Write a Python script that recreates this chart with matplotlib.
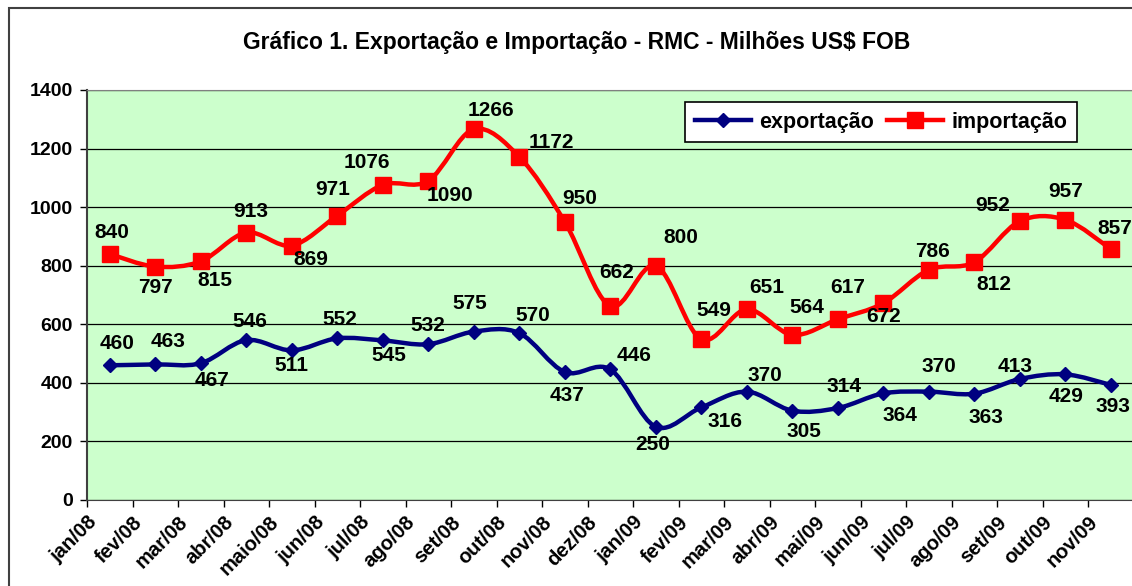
import numpy as np
import matplotlib.pyplot as plt
from matplotlib.path import Path
from matplotlib.patches import PathPatch, Rectangle
from matplotlib.lines import Line2D

plt.rcParams['font.family'] = ['Liberation Sans', 'DejaVu Sans']
plt.rcParams['font.weight'] = 'bold'

# Dados

meses = ['jan/08', 'fev/08', 'mar/08', 'abr/08', 'maio/08', 'jun/08', 'jul/08',
         'ago/08', 'set/08', 'out/08', 'nov/08', 'dez/08', 'jan/09', 'fev/09',
         'mar/09', 'abr/09', 'mai/09', 'jun/09', 'jul/09', 'ago/09', 'set/09',
         'out/09', 'nov/09']

exportacao = [460, 463, 467, 546, 511, 552, 545, 532, 575, 570, 437, 446,
              250, 316, 370, 305, 314, 364, 370, 363, 413, 429, 393]

importacao = [840, 797, 815, 913, 869, 971, 1076, 1090, 1266, 1172, 950, 662,
              800, 549, 651, 564, 617, 672, 786, 812, 952, 957, 857]

# posicao dos rotulos (pixels em relacao ao ponto)
off_exp = [(7, 22), (13, 23), (11, -17), (4, 19), (0, -15), (3, 19), (6, -15),
           (0, 19), (-4, 28), (14, 18), (2, -23), (24, 14), (-3, -18), (24, -14),
           (18, 16), (12, -21), (6, 22), (17, -22), (10, 25), (12, -24),
           (-5, 13), (1, -22), (2, -22)]
off_imp = [(2, 21), (0, -21), (14, -19), (4, 21), (19, -14), (-5, 26), (-16, 22),
           (22, -15), (17, 19), (32, 14), (15, 23), (6, 34), (25, 28), (13, 29),
           (20, 22), (15, 27), (10, 32), (0, -13), (4, 18), (20, -22),
           (-27, 16), (0, 28), (4, 21)]

cor_exp = '#000080'
cor_imp = '#FF0000'

# Utilitario: curva suavizada (como no Excel)

def curva(x, y):
    pts = np.column_stack([x, y]).astype(float)
    p = np.vstack([pts[0], pts, pts[-1]])
    verts = [pts[0]]
    codes = [Path.MOVETO]
    for i in range(1, len(p) - 2):
        c1 = p[i] + (p[i + 1] - p[i - 1]) / 6
        c2 = p[i + 1] - (p[i + 2] - p[i]) / 6
        verts += [c1, c2, p[i + 1]]
        codes += [Path.CURVE4] * 3
    return Path(verts, codes)

# Grafico

fig = plt.figure(figsize=(11.32, 5.86), dpi=100)
ax = fig.add_axes([87 / 1132, 1 - 500 / 586, (1133.5 - 87) / 1132, 410 / 586])
ax.set_facecolor('#CCFFCC')

x = np.arange(len(meses))

for serie, cor, mk, ms, offs in [(importacao, cor_imp, 's', 11, off_imp),
                                 (exportacao, cor_exp, 'D', 7, off_exp)]:
    ax.add_patch(PathPatch(curva(x, serie), facecolor='none', edgecolor=cor,
                           lw=3.2, zorder=3, capstyle='round', joinstyle='round'))
    ax.plot(x, serie, linestyle='none', marker=mk, markersize=ms, color=cor, zorder=4)
    for xi, v, (dx, dy) in zip(x, serie, offs):
        ax.annotate(str(v), (xi, v), xytext=(dx, dy), textcoords='offset pixels',
                    ha='center', va='center', fontsize=15, fontweight='bold',
                    zorder=5)

ax.set_xlim(-0.5, len(meses) - 0.5)
ax.set_ylim(0, 1400)
ax.set_yticks(np.arange(0, 1401, 200))
ax.set_xticks(np.arange(-0.5, len(meses), 1))
ax.set_xticklabels(meses + [''], rotation=45, ha='right', rotation_mode='anchor',
                   fontsize=14.5, fontweight='bold')
ax.tick_params(axis='y', labelsize=14, length=5, width=1, pad=5)
ax.tick_params(axis='x', length=5, width=1, pad=4)
ax.yaxis.grid(True, color='black', lw=0.9)
ax.set_axisbelow(True)

ax.spines['top'].set_color('#808080')
ax.spines['left'].set_color('#404040')
ax.spines['left'].set_linewidth(1.5)
ax.spines['right'].set_visible(False)
ax.spines['bottom'].set_color('#404040')

handles = [Line2D([], [], color=cor_exp, lw=3.2, marker='D', markersize=7),
           Line2D([], [], color=cor_imp, lw=3.2, marker='s', markersize=11)]
leg = fig.legend(handles, ['exportação', 'importação'], loc='upper left',
                 bbox_to_anchor=(685 / 1132, 1 - 102 / 586), ncol=2,
                 frameon=True, fancybox=False, edgecolor='black', framealpha=1,
                 prop={'size': 15.5, 'weight': 'bold'}, handlelength=2.6,
                 columnspacing=0.6, handletextpad=0.4, borderpad=0.45,
                 borderaxespad=0)
leg.get_frame().set_linewidth(1.2)

fig.text(577 / 1132, 1 - 42 / 586,
         'Gráfico 1. Exportação e Importação - RMC - Milhões US$ FOB',
         ha='center', va='center', fontsize=16.5, fontweight='bold')

fig.patches.append(Rectangle((9 / 1132, -0.1), 1.2, 1.1 - 8 / 586,
                             transform=fig.transFigure, fill=False,
                             edgecolor='#404040', lw=1.5))

fig.savefig('out.png', dpi=100)
